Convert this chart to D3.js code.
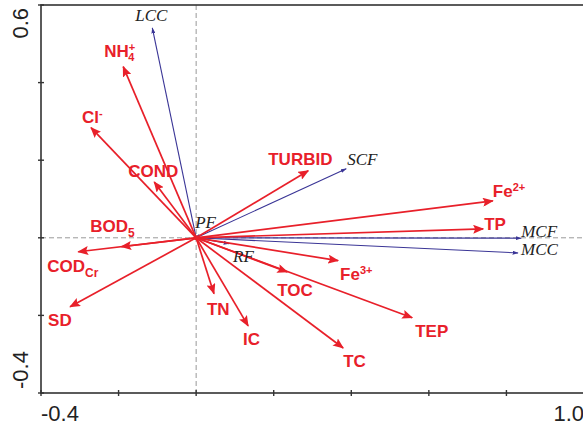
<!DOCTYPE html>
<html>
<head>
<meta charset="utf-8">
<script src="https://cdn.jsdelivr.net/npm/d3@7"></script>
<style>
  body { margin: 0; background: #fff; }
  svg { display: block; }
  .frame { fill: none; stroke: #333; stroke-width: 1.6; }
  .zero { stroke: #999; stroke-width: 1; stroke-dasharray: 5,3; }
  .tick { stroke: #333; stroke-width: 1.4; }
  .axlab { font-family: Arial, "Liberation Sans", sans-serif; font-size: 22px; fill: #222; }
  .resp { stroke: #e8202a; stroke-width: 1.7; fill: none; }
  .expl { stroke: #3a3596; stroke-width: 1.1; fill: none; }
  .resplab { font-family: Arial, "Liberation Sans", sans-serif; font-weight: bold; font-size: 17px; fill: #e8202a; }
  .expllab { font-family: "Liberation Serif", "Times New Roman", serif; font-style: italic; font-size: 17px; fill: #222; }
</style>
</head>
<body>
<svg id="chart" width="583" height="427"></svg>
<script>
  "use strict"

  // response variables (red arrows)
  var respNames = ["NH4", "Cl", "COND", "BOD5", "CODCr", "SD", "TURBID", "Fe2", "TP",
                   "Fe3", "TOC", "TN", "IC", "TC", "TEP"]
  var respX = [-0.188, -0.271, -0.108, -0.193, -0.304, -0.325, 0.289, 0.765, 0.740,
               0.366, 0.235, 0.046, 0.134, 0.379, 0.557]
  var respY = [0.441, 0.284, 0.144, -0.023, -0.036, -0.178, 0.173, 0.095, 0.023,
               -0.059, -0.088, -0.144, -0.227, -0.284, -0.206]

  // explanatory variables (blue arrows)
  var explNames = ["LCC", "SCF", "MCF", "MCC", "RF", "PF"]
  var explX = [-0.113, 0.387, 0.838, 0.830, 0.085, 0.008]
  var explY = [0.541, 0.178, -0.001, -0.039, -0.015, 0.008]

  var xTicks = [-0.4, -0.2, 0, 0.2, 0.4, 0.6, 0.8, 1.0]
  var yTicks = [-0.4, -0.2, 0, 0.2, 0.4, 0.6]
  var xEndLabels = ["-0.4", "1.0"]
  var yEndLabels = ["-0.4", "0.6"]

  // label text pieces: [text, kind]
  var labelParts = {
    NH4: [["NH", "n"], ["+", "sup"], ["4", "subback"]],
    Cl: [["Cl", "n"], ["-", "sup"]],
    COND: [["COND", "n"]],
    BOD5: [["BOD", "n"], ["5", "sub"]],
    CODCr: [["COD", "n"], ["Cr", "sub"]],
    SD: [["SD", "n"]],
    TURBID: [["TURBID", "n"]],
    Fe2: [["Fe", "n"], ["2+", "sup"]],
    TP: [["TP", "n"]],
    Fe3: [["Fe", "n"], ["3+", "sup"]],
    TOC: [["TOC", "n"]],
    TN: [["TN", "n"]],
    IC: [["IC", "n"]],
    TC: [["TC", "n"]],
    TEP: [["TEP", "n"]]
  }

  // label offsets from arrow tip, pixels
  var labelOffset = {
    NH4: [-19, -10], Cl: [-9, -5], COND: [-26, -5], BOD5: [-31, -15],
    CODCr: [-31, 20], SD: [-22, 19], TURBID: [-40, -6], Fe2: [0, -4],
    TP: [1, 1], Fe3: [2, 19], TOC: [-10, 24], TN: [-7, 21], IC: [-5, 19],
    TC: [0, 19], TEP: [3, 19],
    LCC: [-17, -7], SCF: [1, -4], MCF: [0, -1], MCC: [3, 2], RF: [4, 18], PF: [-4, -7]
  }

  var chart = {}

  chart.x = d3.scaleLinear().domain([-0.4, 1.0]).range([41, 584])
  chart.y = d3.scaleLinear().domain([-0.4, 0.6]).range([393, 5])

  var svg = d3.select("#chart")

  var defs = svg.append("defs")
  defs.append("marker")
    .attr("id", "headRed")
    .attr("markerUnits", "userSpaceOnUse")
    .attr("viewBox", "0 0 11 9")
    .attr("refX", 10).attr("refY", 4.5)
    .attr("markerWidth", 11).attr("markerHeight", 9)
    .attr("orient", "auto")
    .append("path")
    .attr("d", "M0,0 L11,4.5 L0,9 L2,4.5 z")
    .attr("fill", "#e8202a")
  defs.append("marker")
    .attr("id", "headBlue")
    .attr("markerUnits", "userSpaceOnUse")
    .attr("viewBox", "0 0 6 4")
    .attr("refX", 5.5).attr("refY", 2)
    .attr("markerWidth", 6).attr("markerHeight", 4)
    .attr("orient", "auto")
    .append("path")
    .attr("d", "M0,0 L6,2 L0,4 z")
    .attr("fill", "#3a3596")

  var x = chart.x, y = chart.y

  // zero lines
  svg.append("line").attr("class", "zero")
    .attr("x1", x(0)).attr("x2", x(0)).attr("y1", y(0.6)).attr("y2", y(-0.4))
  svg.append("line").attr("class", "zero")
    .attr("x1", x(-0.4)).attr("x2", x(1.0)).attr("y1", y(0)).attr("y2", y(0))

  // frame
  svg.append("rect").attr("class", "frame")
    .attr("x", x(-0.4)).attr("y", y(0.6))
    .attr("width", x(1.0) - x(-0.4)).attr("height", y(-0.4) - y(0.6))

  // ticks crossing the axis lines
  svg.selectAll(".xtick").data(xTicks).enter().append("line")
    .attr("class", "tick")
    .attr("x1", function(d){ return x(d) }).attr("x2", function(d){ return x(d) })
    .attr("y1", y(-0.4) - 3).attr("y2", y(-0.4) + 3)
  svg.selectAll(".ytick").data(yTicks).enter().append("line")
    .attr("class", "tick")
    .attr("y1", function(d){ return y(d) }).attr("y2", function(d){ return y(d) })
    .attr("x1", x(-0.4) - 3).attr("x2", x(-0.4) + 3)

  // end labels only
  svg.append("text").attr("class", "axlab")
    .attr("x", x(xTicks[0])).attr("y", 421).attr("text-anchor", "start")
    .text(xEndLabels[0])
  svg.append("text").attr("class", "axlab")
    .attr("x", x(xTicks[xTicks.length - 1])).attr("y", 421).attr("text-anchor", "end")
    .text(xEndLabels[1])
  svg.append("text").attr("class", "axlab")
    .attr("transform", "translate(28," + (y(yTicks[yTicks.length - 1]) + 3) + ") rotate(-90)")
    .attr("text-anchor", "end")
    .text(yEndLabels[1])
  svg.append("text").attr("class", "axlab")
    .attr("transform", "translate(28," + (y(yTicks[0]) - 4) + ") rotate(-90)")
    .attr("text-anchor", "start")
    .text(yEndLabels[0])

  var resp = respNames.map(function(n, i){ return { name: n, x: respX[i], y: respY[i] } })
  var expl = explNames.map(function(n, i){ return { name: n, x: explX[i], y: explY[i] } })

  // blue arrows
  svg.selectAll(".expl").data(expl).enter().append("line")
    .attr("class", "expl")
    .attr("x1", x(0)).attr("y1", y(0))
    .attr("x2", function(d){ return x(d.x) }).attr("y2", function(d){ return y(d.y) })
    .attr("marker-end", "url(#headBlue)")

  // red arrows
  svg.selectAll(".resp").data(resp).enter().append("line")
    .attr("class", "resp")
    .attr("x1", x(0)).attr("y1", y(0))
    .attr("x2", function(d){ return x(d.x) }).attr("y2", function(d){ return y(d.y) })
    .attr("marker-end", "url(#headRed)")

  svg.append("circle").attr("cx", x(0)).attr("cy", y(0)).attr("r", 2.5).attr("fill", "#e8202a")

  // labels
  svg.selectAll(".expllab").data(expl).enter().append("text")
    .attr("class", "expllab")
    .attr("x", function(d){ return x(d.x) + labelOffset[d.name][0] })
    .attr("y", function(d){ return y(d.y) + labelOffset[d.name][1] })
    .text(function(d){ return d.name })

  svg.selectAll(".resplab").data(resp).enter().append("text")
    .attr("class", "resplab")
    .attr("x", function(d){ return x(d.x) + labelOffset[d.name][0] })
    .attr("y", function(d){ return y(d.y) + labelOffset[d.name][1] })
    .each(function(d){
      var t = d3.select(this)
      var shift = 0
      labelParts[d.name].forEach(function(p){
        var s = t.append("tspan").text(p[0])
        if (p[1] == "sup") {
          s.attr("dy", -6 - shift).attr("font-size", "11px")
          shift = -6
        } else if (p[1] == "sub") {
          s.attr("dy", 5 - shift).attr("font-size", "12px")
          shift = 5
        } else if (p[1] == "subback") {
          s.attr("dx", -7).attr("dy", 4 - shift).attr("font-size", "11px")
          shift = 4
        }
      })
    })
</script>
</body>
</html>
